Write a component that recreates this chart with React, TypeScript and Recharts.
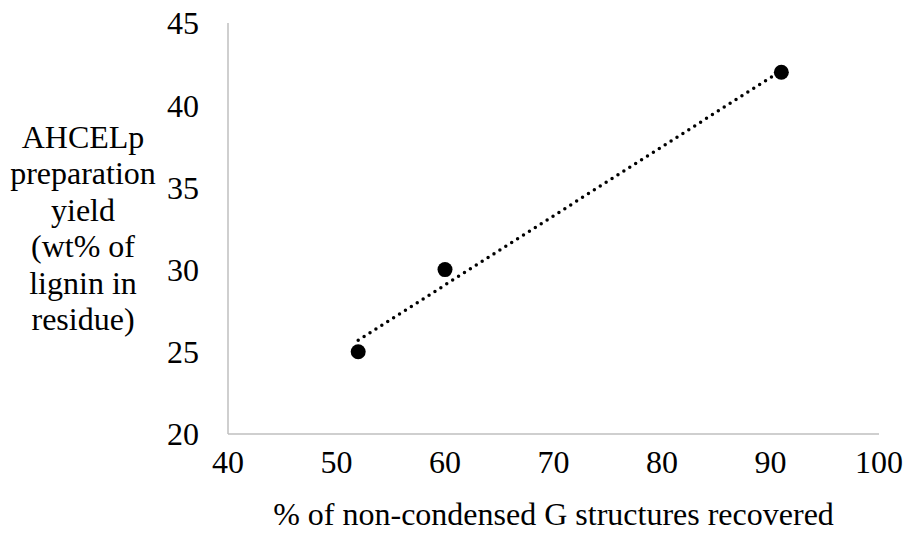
import React from 'react';
import { ScatterChart, Scatter, XAxis, YAxis } from 'recharts';

const xValues = [52, 60, 91];
const yValues = [25, 30, 42];
const trendX = [52, 91];
const trendY = [25.7, 42.1];
const xTicks = [40, 50, 60, 70, 80, 90, 100];
const yTicks = [20, 25, 30, 35, 40, 45];
const yTitleLines = ['AHCELp', 'preparation', 'yield', '(wt% of', 'lignin in', 'residue)'];
const xTitle = '% of non-condensed G structures recovered';

const points = xValues.map((x, i) => ({ x, y: yValues[i] }));
const trend = trendX.map((x, i) => ({ x, y: trendY[i] }));

const FONT = 'Liberation Serif';
const FS = 32;
const textStyle = { fontFamily: FONT, fontSize: FS };

const Dot = (props: any) => <circle cx={props.cx} cy={props.cy} r={7.5} fill="#000" />;
const NoDot = () => null;

const YTitle = () => (
  <text x={83} y={0} textAnchor="middle" style={textStyle} fill="#000">
    {yTitleLines.map((l, i) => (
      <tspan key={i} x={83} y={148 + i * 36.4} style={textStyle}>
        {l}
      </tspan>
    ))}
  </text>
);

const XTitle = (props: any) => {
  const vb = props.viewBox || { x: 228, width: 651 };
  return (
    <text x={vb.x + vb.width / 2} y={525} textAnchor="middle" style={textStyle} fill="#000">
      {xTitle}
    </text>
  );
};

const Tick = (props: any) => {
  const { x, y, payload, textAnchor, orient } = props;
  return (
    <text x={x} y={y} textAnchor={textAnchor} dy={orient === 'bottom' ? '0.71em' : '0.355em'} style={textStyle} fill="#000">
      {payload.value}
    </text>
  );
};

export default function App() {
  return (
    <div style={{ position: 'absolute', left: 0, top: 0, width: 908, height: 533, background: '#fff', fontFamily: FONT }}>
      <ScatterChart width={908} height={533} margin={{ top: 23, right: 29, bottom: 0, left: 0 }} style={{ fontFamily: FONT }}>
        <XAxis
          type="number"
          dataKey="x"
          domain={[40, 100]}
          ticks={xTicks}
          interval={0}
          height={99}
          axisLine={{ stroke: '#bfbfbf', strokeWidth: 1.5 }}
          tickLine={false}
          tickSize={0}
          tickMargin={28}
          tick={<Tick />}
          label={<XTitle />}
        />
        <YAxis
          type="number"
          dataKey="y"
          domain={[20, 45]}
          ticks={yTicks}
          interval={0}
          width={228}
          axisLine={{ stroke: '#bfbfbf', strokeWidth: 1.5 }}
          tickLine={false}
          tickSize={0}
          tickMargin={29}
          tick={<Tick />}
          label={<YTitle />}
        />
        <Scatter
          data={trend}
          isAnimationActive={false}
          shape={NoDot}
          line={{ stroke: '#000', strokeWidth: 3.5, strokeDasharray: '0 7', strokeLinecap: 'round' }}
        />
        <Scatter data={points} isAnimationActive={false} shape={Dot} fill="#000" />
      </ScatterChart>
    </div>
  );
}
